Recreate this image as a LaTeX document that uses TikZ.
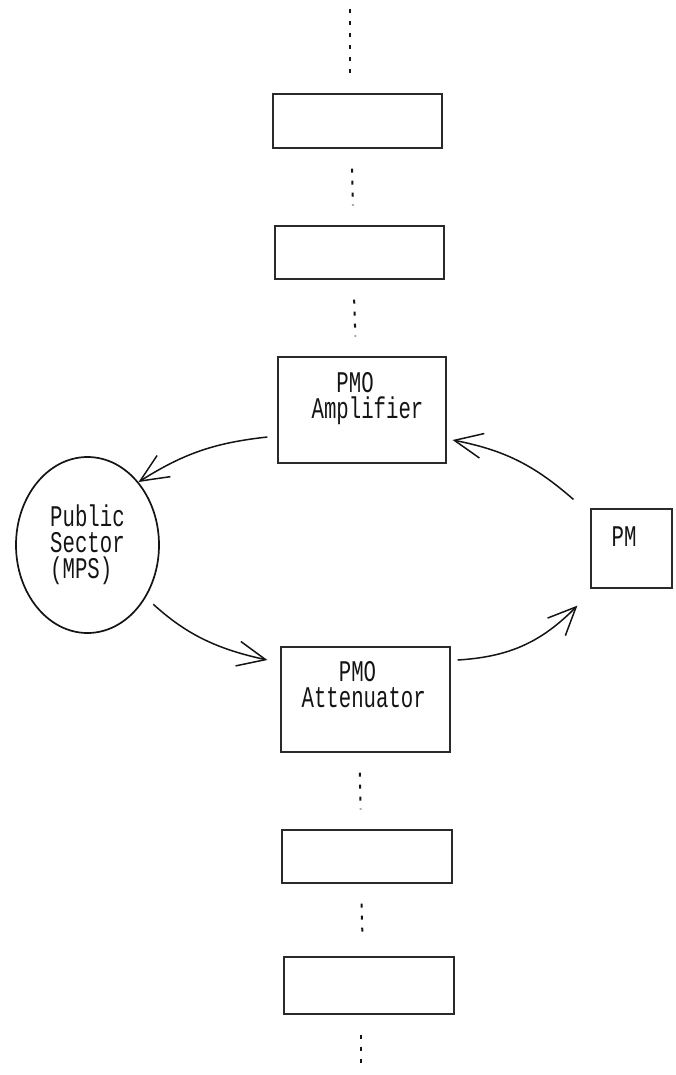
\documentclass[tikz,border=0pt]{standalone}
\usepackage{fontspec}
\usetikzlibrary{arrows.meta,calc,positioning,shapes.geometric}
\newfontfamily\dotfont[FakeStretch=0.69]{Liberation Mono}
\definecolor{ink}{HTML}{141414}
\definecolor{inksoft}{HTML}{2A2A2A}

\begin{document}
\begin{tikzpicture}[
  x=1pt, y=-1pt,
  font=\dotfont\fontsize{30}{26}\selectfont,
  >={Straight Barb[length=28pt, width=25pt]},
  block/.style={draw=inksoft, line width=1.2pt, minimum width=169pt, inner sep=0pt},
  tag/.style={anchor=base west, inner sep=0pt, align=left, text=ink},
  sector/.style={draw=ink, ellipse, line width=1.7pt, minimum width=143pt, minimum height=176pt,
    inner sep=0pt, align=left, text=ink},
  dotline/.style={draw=ink, line width=2pt, dash pattern=on 4pt off 8pt, shorten <=20pt, shorten >=20pt},
  flow/.style={->, draw=ink, line width=1.5pt}
]
\useasboundingbox (0,0) rectangle (676,1075);

\node[block, minimum height=54pt] (b1) at (357.5,121) {};
\node[block, minimum height=53pt] (b2) at (359.5,252.5) {};
\node[block, minimum height=106pt, minimum width=168pt] (amp) at (362,410) {};
\node[block, minimum height=105pt] (attn) at (365.5,699.5) {};
\node[block, minimum height=53pt, minimum width=170pt] (b3) at (367,856.5) {};
\node[block, minimum height=57pt, minimum width=170pt] (b4) at (369,985.5) {};
\node[block, minimum width=81pt, minimum height=79pt] (pm) at (631.5,548.5) {};
\node[sector] (mps) at (87.5,545) {Public\\Sector\\(MPS)};

\node[tag] (amptag) at ([xshift=34pt,yshift=-62pt]amp.north west) {\phantom{PM}PMO\\Amplifier};
\node[tag] (attntag) at ([xshift=21pt,yshift=-61pt]attn.north west) {\phantom{PMO}PMO\\Attenuator};
\node[tag] (pmtag) at ([xshift=21pt,yshift=-38pt]pm.north west) {PM};

\coordinate (top) at (350,9);
\coordinate (bottom) at (361,1090);
\draw[dotline, shorten <=0pt] (top) -- (top|-b1.north);
\draw[dotline] ([xshift=-6pt]b1.south) -- ([xshift=-6pt]b2.north);
\draw[dotline] ([xshift=-6pt]b2.south) -- ([xshift=-6pt]amp.north);
\draw[dotline] ([xshift=-6pt]attn.south) -- ([xshift=-6pt]b3.north);
\draw[dotline] ([xshift=-6pt]b3.south) -- ([xshift=-6pt]b4.north);
\draw[dotline] ([xshift=-8pt]b4.south) -- (bottom);

\draw[flow] ([xshift=-10pt,yshift=-27pt]amp.west) to[bend right=13] (mps.51);
\draw[flow, shorten <=10pt] (mps.-42) to[bend right=15] ([xshift=-13pt,yshift=39.5pt]attn.west);
\draw[flow] ([xshift=7pt,yshift=39.5pt]attn.east) to[bend right=21] ([xshift=-13pt,yshift=-17pt]pm.south west);
\draw[flow] ([xshift=-17pt,yshift=9pt]pm.north west) to[bend right=15] ([xshift=6pt,yshift=-30pt]amp.east);
\end{tikzpicture}
\end{document}
